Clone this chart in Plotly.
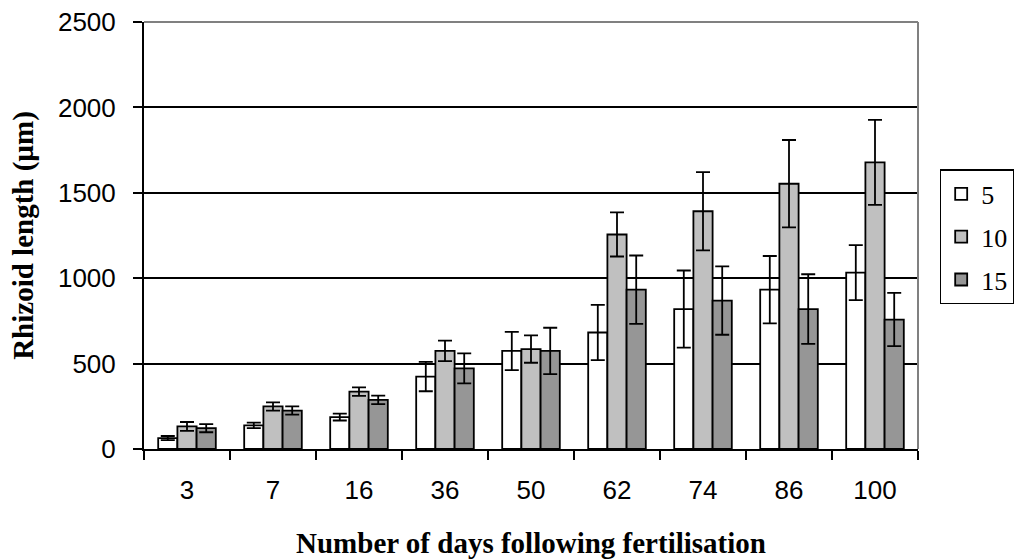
import plotly.graph_objects as go

days = ["3", "7", "16", "36", "50", "62", "74", "86", "100"]
series_names = ["5", "10", "15"]
vals_5 = [64, 138, 187, 424, 574, 682, 819, 933, 1033]
err_5 = [12, 16, 20, 86, 112, 162, 226, 197, 161]
vals_10 = [132, 249, 336, 574, 585, 1256, 1392, 1553, 1678]
err_10 = [26, 24, 25, 60, 80, 129, 229, 256, 249]
vals_15 = [122, 225, 288, 472, 574, 933, 869, 819, 758]
err_15 = [24, 24, 25, 88, 136, 200, 200, 204, 156]
colors = ["#ffffff", "#c0c0c0", "#969696"]

fig = go.Figure()
for name, v, e, c in zip(series_names, [vals_5, vals_10, vals_15], [err_5, err_10, err_15], colors):
    fig.add_trace(go.Bar(
        x=days, y=v, name=name, legendgroup=name,
        marker=dict(color=c, line=dict(color="black", width=1.8)),
        error_y=dict(type="data", array=e, visible=True, color="black", thickness=1.8, width=7),
    ))

fig.update_layout(
    width=1015, height=559,
    margin=dict(l=144, r=97, t=22, b=110, autoexpand=False),
    paper_bgcolor="white", plot_bgcolor="white",
    barmode="group", bargap=0.33, bargroupgap=0,
    font=dict(family="Liberation Sans", color="black"),
    legend=dict(
        x=1.0284, xanchor="left", y=0.655, yanchor="top",
        bgcolor="white", bordercolor="black", borderwidth=1.2,
        font=dict(family="Liberation Serif", size=26, color="black"),
        tracegroupgap=6,
    ),
    xaxis=dict(
        type="category", tickson="boundaries", ticks="outside", ticklen=9, tickwidth=1.5,
        tickcolor="black", showline=True, linecolor="black", linewidth=2,
        tickfont=dict(family="Liberation Sans", size=26, color="black"),
        ticklabelstandoff=17,
        title=dict(text="Number of days following fertilisation",
                   font=dict(family="Liberation Serif", size=29, color="black", weight="bold"),
                   standoff=29),
        showgrid=False, zeroline=False,
    ),
    yaxis=dict(
        range=[0, 2500], tickvals=[0, 500, 1000, 1500, 2000, 2500],
        ticks="outside", ticklen=9, tickwidth=1.5, tickcolor="black",
        showline=True, linecolor="black", linewidth=2,
        tickfont=dict(family="Liberation Sans", size=26, color="black"),
        ticklabelstandoff=12,
        showgrid=True, gridcolor="black", gridwidth=1.5, zeroline=False,
        title=dict(text="Rhizoid length (µm)",
                   font=dict(family="Liberation Serif", size=29, color="black", weight="bold"),
                   standoff=16),
    ),
    shapes=[
        dict(type="line", xref="paper", yref="paper", x0=0, x1=1, y0=1, y1=1,
             line=dict(color="#808080", width=2), layer="above"),
        dict(type="line", xref="paper", yref="paper", x0=1, x1=1, y0=0, y1=1,
             line=dict(color="#808080", width=2), layer="above"),
    ],
)

fig.write_html("out.html")
